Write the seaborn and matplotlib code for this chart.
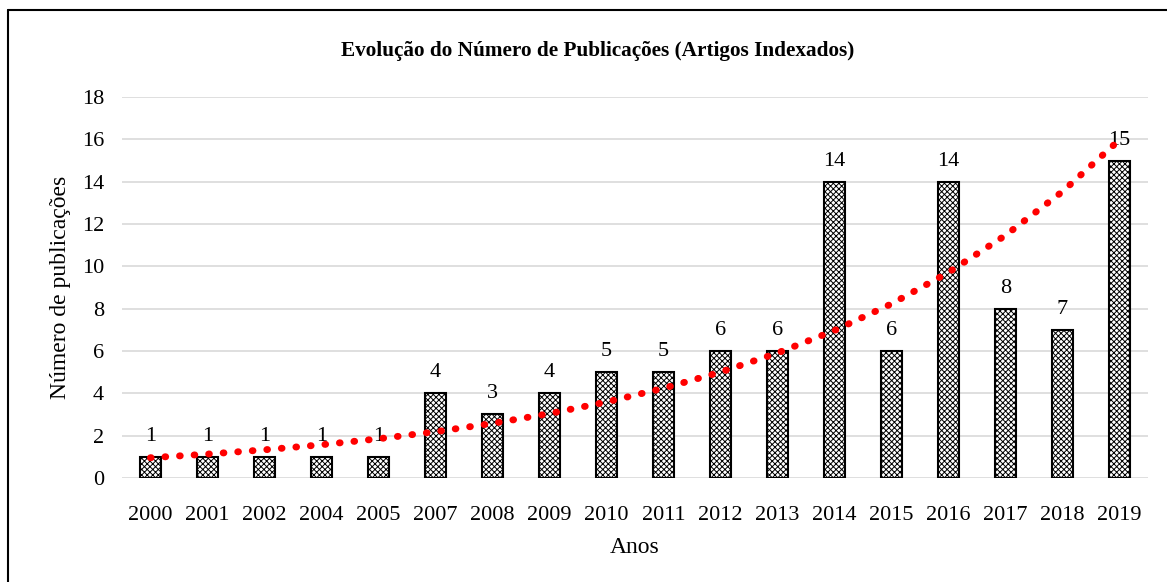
import numpy as np
import pandas as pd
import matplotlib.pyplot as plt
import seaborn as sns
from matplotlib.lines import Line2D

# Data
anos = ["2000", "2001", "2002", "2004", "2005", "2007", "2008", "2009", "2010",
        "2011", "2012", "2013", "2014", "2015", "2016", "2017", "2018", "2019"]
publicacoes = [1, 1, 1, 1, 1, 4, 3, 4, 5, 5, 6, 6, 14, 6, 14, 8, 7, 15]

df = pd.DataFrame({"Anos": anos, "Publicacoes": publicacoes})

sns.set_style("white")
plt.rcParams["font.family"] = ["Liberation Serif", "DejaVu Serif"]
plt.rcParams["hatch.linewidth"] = 0.7
for key in ["text.color", "axes.labelcolor", "xtick.color", "ytick.color"]:
    plt.rcParams[key] = "black"

fig = plt.figure(figsize=(11.67, 5.82), dpi=100)
ax = fig.add_axes([0.1045, 0.179, 0.879, 0.654])

sns.barplot(data=df, x="Anos", y="Publicacoes", color="white",
            edgecolor="black", linewidth=1.5, width=0.36, ax=ax)
for p in ax.patches:
    p.set_hatch("xxxxxx")

ax.bar_label(ax.containers[0], fontsize=16, padding=8)

# Exponential trendline (Excel style), fitted on the data
xs = np.arange(1, len(publicacoes) + 1)
b, ln_a = np.polyfit(xs, np.log(publicacoes), 1)
trend = np.exp(ln_a) * np.exp(b * xs)
ax.plot(xs - 1, trend, color="red", linestyle=(0, (0.1, 2.0)), linewidth=5,
        dash_capstyle="round", zorder=3)

ax.set_ylim(0, 18)
ax.set_xlim(-0.5, len(anos) - 0.5)
ax.set_yticks(range(0, 19, 2))
ax.yaxis.grid(True, color="#d9d9d9", linewidth=1.2)
ax.set_axisbelow(True)
sns.despine(ax=ax, left=True, bottom=True, top=True, right=True)
ax.tick_params(axis="both", length=0, labelsize=16)
ax.tick_params(axis="x", pad=20)
ax.tick_params(axis="y", pad=13)
ax.set_xlabel("Anos", fontsize=17, labelpad=9)
ax.set_ylabel("Número de publicações", fontsize=17, labelpad=8)

fig.text(0.512, 0.913, "Evolução do Número de Publicações (Artigos Indexados)",
         ha="center", va="center", fontsize=15.3, fontweight="bold")

# chart frame (left and top edges visible)
fig.add_artist(Line2D([8 / 1167, 8 / 1167], [0, 1 - 10 / 582], color="black", linewidth=1.5))
fig.add_artist(Line2D([8 / 1167, 1], [1 - 10 / 582, 1 - 10 / 582], color="black", linewidth=1.5))

fig.savefig("out.png", dpi=100)
